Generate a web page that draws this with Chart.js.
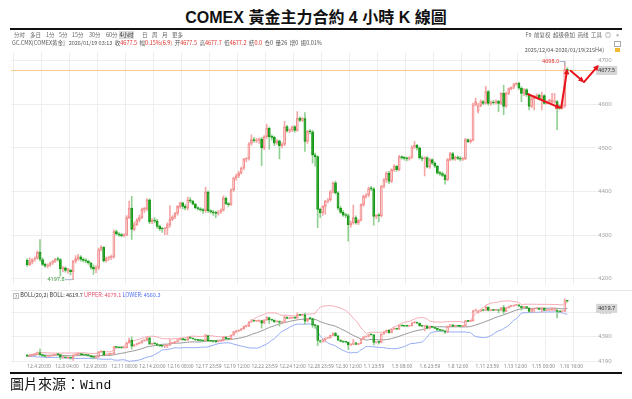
<!DOCTYPE html>
<html><head><meta charset="utf-8">
<script src="https://cdn.jsdelivr.net/npm/chart.js@4.4.1/dist/chart.umd.min.js"></script>
<style>
html,body{margin:0;padding:0;background:#fff;width:632px;height:399px;overflow:hidden;}
body{position:relative;font-family:"Noto Sans CJK SC","Noto Sans",sans-serif;}
.abs{position:absolute;white-space:nowrap;}
canvas{position:absolute;left:0;}
.tb{position:absolute;top:31px;font-size:5.5px;line-height:8px;color:#666;}
.info{position:absolute;top:39px;font-size:5.5px;line-height:8px;color:#555;white-space:nowrap;}
.info .r{color:#e0302a;}
</style></head><body>
<canvas id="main" width="632" height="250" style="top:40px"></canvas>
<canvas id="ind" width="632" height="84" style="top:288px"></canvas>

<div class="abs" style="left:0;top:7px;width:632px;text-align:center;font-size:16px;line-height:18px;font-weight:bold;color:#111;font-family:'Liberation Sans Narrow','Liberation Sans','Noto Sans CJK TC',sans-serif;">COMEX <span style="font-family:'Noto Sans CJK TC';font-weight:600">黃金主力合約</span> 4 <span style="font-family:'Noto Sans CJK TC';font-weight:600">小時</span> K <span style="font-family:'Noto Sans CJK TC';font-weight:600">線圖</span></div>
<div class="abs" style="left:10px;top:28px;width:612px;height:2px;background:#111;"></div>

<div class="tb" style="left:14px">分时</div>
<div class="tb" style="left:30px">多日</div>
<div class="tb" style="left:46px">1分</div>
<div class="tb" style="left:59px">5分</div>
<div class="tb" style="left:72px">15分</div>
<div class="tb" style="left:89px">30分</div>
<div class="tb" style="left:106px">60分</div>
<div class="tb" style="left:119px;width:15px;text-align:center;background:#dcdcdc;color:#333">4小时</div>
<div class="tb" style="left:142px">日</div>
<div class="tb" style="left:152px">周</div>
<div class="tb" style="left:162px">月</div>
<div class="tb" style="left:172px">更多</div>

<div class="info" style="left:12px">GC.CMX[COMEX黄金]&nbsp;&nbsp;&nbsp;2026/01/19 03:13&nbsp;&nbsp;收<span class="r">4677.5</span>&nbsp;&nbsp;幅<span class="r">0.15%(6.9)</span>&nbsp;&nbsp;开<span class="r">4677.5</span>&nbsp;&nbsp;高<span class="r">4677.7</span>&nbsp;&nbsp;低<span class="r">4677.2</span>&nbsp;&nbsp;结<span class="r">0.0</span>&nbsp;&nbsp;仓0&nbsp;&nbsp;量26&nbsp;&nbsp;增0&nbsp;&nbsp;振0.01%</div>

<div class="tb" style="left:520px;width:82px;text-align:right;">F9&nbsp;&nbsp;前复权&nbsp;&nbsp;超级叠加&nbsp;&nbsp;画线&nbsp;&nbsp;工具</div>
<div class="tb" style="left:605px;font-size:6px">◎</div>
<div class="tb" style="left:616px;font-size:6px">»</div>
<div class="abs" style="left:614px;top:41px;width:5px;height:4px;border:1px solid #aaa;"></div>
<div class="abs" style="left:450px;top:46px;width:154px;text-align:right;font-size:5.5px;line-height:8px;color:#555;">2025/12/04-2026/01/19(215H4)</div>
<div class="abs" style="left:615px;top:48px;width:5px;height:4px;background:#f2b630;"></div>

<div class="abs" style="left:11px;top:290px;width:621px;height:1px;background:#e6e6e6;"></div>
<div class="abs" style="left:13px;top:291px;font-size:5.5px;line-height:8px;color:#333;"><span style="display:inline-block;box-sizing:border-box;border:1px solid #bbb;width:6px;height:6px;line-height:4px;text-align:center;font-size:4.5px;vertical-align:middle">?</span>&nbsp;BOLL(20,2)&nbsp;BOLL:&nbsp;<span id="bm"></span>&nbsp;<span style="color:#e8506a">UPPER:&nbsp;<span id="bu"></span></span>&nbsp;<span style="color:#4a6cf0">LOWER:&nbsp;<span id="bl"></span></span></div>

<div class="abs" style="left:10px;top:372px;width:612px;height:2px;background:#111;"></div>
<div class="abs" style="left:10px;top:375px;font-size:14px;line-height:17px;color:#111;"><span style="font-family:'Noto Sans CJK TC'">圖片來源：</span><span style="font-family:'Liberation Mono',monospace;font-size:13px">Wind</span></div>

<script>
// ---------------- data ----------------
const tickLabels = ['12.4 20:00','12.8 04:00','12.9 20:00','12.11 08:00','12.14 20:00','12.16 08:00','12.17 23:59','12.19 12:00','12.22 23:59','12.24 12:00','12.28 23:59','12.30 12:00','1.1 23:59','1.5 08:00','1.6 23:59','1.8 12:00','1.11 23:59','1.13 12:00','1.15 00:00','1.16 16:00'];
const barsPerTick = 11;
const priceTicks = [4200,4300,4400,4500,4600,4700];
const indTicks = [4190,4390,4590];
const opens = [4242,4232,4238,4244,4247,4261,4244,4233,4229,4231,
4236,4240,4245,4244,4223,4225,4219,4220,4216,4240,
4246,4250,4244,4242,4240,4236,4226,4222,4225,4267,
4272,4241,4247,4249,4250,4308,4303,4300,4299,4300,
4340,4362,4313,4324,4334,4340,4359,4360,4381,4330,
4334,4332,4320,4315,4314,4316,4324,4336,4342,4350,
4366,4374,4366,4362,4381,4378,4371,4363,4360,4358,
4356,4399,4356,4353,4351,4350,4353,4357,4385,4372,
4370,4404,4431,4436,4442,4454,4474,4476,4510,4519,
4516,4518,4520,4500,4526,4545,4526,4524,4511,4516,
4505,4508,4549,4539,4541,4549,4540,4568,4563,4567,
4515,4538,4537,4484,4480,4359,4351,4366,4378,4381,
4400,4420,4397,4362,4352,4346,4345,4324,4328,4340,
4328,4334,4370,4389,4392,4407,4406,4343,4345,4344,
4412,4427,4442,4423,4450,4458,4450,4480,4477,4476,
4475,4478,4502,4506,4500,4477,4475,4478,4456,4473,
4465,4458,4442,4441,4437,4427,4473,4487,4474,4479,
4476,4474,4475,4519,4514,4518,4599,4584,4597,4606,
4602,4629,4602,4605,4603,4607,4602,4625,4595,4625,
4636,4639,4646,4648,4637,4625,4634,4622,4595,4613,
4618,4621,4612,4620,4602,4605,4604,4605,4606,4595,
4591,4596,4680];
const highs = [4246,4248,4246,4250,4264,4290,4248,4236,4234,4238,
4242,4247,4249,4247,4228,4227,4224,4222,4242,4253,
4256,4253,4248,4246,4243,4238,4232,4230,4270,4276,
4274,4250,4252,4254,4312,4312,4306,4304,4303,4345,
4378,4389,4330,4338,4346,4362,4364,4384,4383,4338,
4340,4336,4323,4318,4318,4328,4367,4345,4352,4368,
4376,4376,4370,4387,4386,4380,4373,4365,4363,4361,
4410,4401,4358,4357,4355,4356,4360,4390,4388,4375,
4406,4433,4440,4446,4456,4476,4478,4512,4530,4524,
4522,4523,4524,4528,4554,4548,4530,4527,4519,4518,
4512,4561,4552,4544,4550,4551,4583,4571,4570,4581,
4540,4542,4540,4488,4482,4362,4368,4380,4384,4402,
4422,4424,4400,4366,4356,4350,4348,4332,4369,4344,
4336,4372,4392,4395,4410,4412,4409,4347,4350,4414,
4430,4445,4446,4452,4462,4460,4483,4482,4480,4479,
4480,4504,4515,4508,4502,4481,4480,4480,4476,4475,
4468,4460,4446,4445,4440,4476,4490,4490,4481,4482,
4480,4478,4522,4521,4520,4603,4614,4602,4610,4609,
4641,4632,4608,4609,4610,4609,4627,4644,4628,4638,
4640,4648,4650,4651,4640,4636,4636,4625,4616,4620,
4624,4624,4628,4622,4608,4612,4625,4625,4609,4598,
4601,4698,4684];
const lows = [4228,4230,4234,4240,4245,4240,4230,4226,4225,4228,
4233,4237,4240,4206,4216,4215,4212,4209,4197.8,4236,
4242,4240,4238,4236,4233,4222,4210,4214,4221,4264,
4238,4238,4242,4244,4247,4300,4297,4296,4296,4298,
4338,4290,4310,4322,4330,4338,4352,4356,4326,4326,
4328,4316,4310,4306,4301,4301,4318,4333,4338,4346,
4362,4360,4358,4358,4374,4369,4360,4357,4355,4350,
4352,4352,4350,4345,4340,4346,4350,4355,4370,4366,
4368,4400,4426,4432,4440,4450,4468,4472,4506,4513,
4512,4510,4459,4496,4522,4497,4518,4505,4508,4475,
4500,4505,4536,4535,4537,4536,4538,4560,4561,4492,
4510,4532,4465,4458,4317,4340,4345,4348,4374,4378,
4396,4394,4358,4350,4343,4340,4286,4318,4325,4325,
4324,4332,4366,4385,4388,4402,4323,4338,4330,4342,
4408,4420,4418,4420,4446,4446,4447,4474,4472,4470,
4472,4476,4498,4495,4474,4470,4436,4454,4453,4462,
4455,4440,4437,4434,4417,4425,4470,4472,4471,4473,
4470,4471,4473,4512,4511,4516,4596,4580,4594,4599,
4600,4598,4598,4600,4600,4583,4599,4576,4593,4622,
4633,4636,4643,4634,4606,4620,4618,4587,4592,4587,
4614,4610,4587,4600,4600,4602,4602,4602,4542,4588,
4589,4593,4672];
const closes = [4232,4238,4244,4247,4261,4244,4233,4229,4231,4236,
4240,4245,4244,4223,4225,4219,4220,4216,4240,4246,
4250,4244,4242,4240,4236,4226,4222,4225,4267,4272,
4241,4247,4249,4250,4308,4303,4300,4299,4300,4340,
4362,4313,4324,4334,4340,4359,4360,4381,4330,4334,
4332,4320,4315,4314,4316,4324,4336,4342,4350,4366,
4374,4366,4362,4381,4378,4371,4363,4360,4358,4356,
4399,4356,4353,4351,4350,4353,4357,4385,4372,4370,
4404,4431,4436,4442,4454,4474,4476,4510,4519,4516,
4518,4520,4500,4526,4545,4526,4524,4511,4516,4505,
4508,4549,4539,4541,4549,4540,4568,4563,4567,4515,
4538,4537,4484,4480,4359,4351,4366,4378,4381,4400,
4420,4397,4362,4352,4346,4345,4324,4328,4340,4328,
4334,4370,4389,4392,4407,4406,4343,4345,4344,4412,
4427,4442,4423,4450,4458,4450,4480,4477,4476,4475,
4478,4502,4506,4500,4477,4475,4478,4456,4473,4465,
4458,4442,4441,4437,4427,4473,4487,4474,4479,4476,
4474,4475,4519,4514,4518,4599,4606,4597,4606,4602,
4629,4602,4605,4603,4607,4602,4625,4595,4625,4636,
4639,4646,4648,4637,4625,4634,4622,4595,4613,4618,
4621,4612,4620,4602,4605,4610,4609,4607,4595,4591,
4598,4680,4677.5];
const bollHeader = {mid:'4619.7', upper:'4679.1', lower:'4560.3'};
// user-drawn arrows on the chart, in (bar index, price) units
const arrowFrom = [[196.6,4623],[209.6,4592],[213.3,4677],[218.5,4651]];
const arrowTo   = [[209.4,4591],[212.0,4681],[218.5,4651],[224.3,4690]];

// -------------- derived --------------
const N = closes.length;
const lastPrice = closes[N-1];
const isUp = closes.map((c,i)=>c>=opens[i]);
function bollinger(n,k){
  const mid=[],up=[],lo=[];
  for(let i=0;i<N;i++){
    const w=closes.slice(Math.max(0,i-n+1),i+1);
    const m=w.reduce((a,b)=>a+b,0)/w.length;
    const sd=Math.sqrt(w.reduce((a,b)=>a+(b-m)*(b-m),0)/w.length);
    mid.push({x:i,y:m}); up.push({x:i,y:m+k*sd}); lo.push({x:i,y:m-k*sd});
  }
  return {mid,up,lo};
}
const bb = bollinger(20,2);
document.getElementById('bm').textContent=bollHeader.mid;
document.getElementById('bu').textContent=bollHeader.upper;
document.getElementById('bl').textContent=bollHeader.lower;

Chart.defaults.font.family="'Noto Sans','DejaVu Sans',sans-serif";
Chart.defaults.animation=false;

function candleSets(bodyW){
  return [
    {type:'bar',order:1,grouped:false,barThickness:bodyW,minBarLength:1,borderWidth:1,borderSkipped:false,
     data:closes.map((c,i)=>({x:i,y:[Math.min(opens[i],c),Math.max(opens[i],c)]})),
     backgroundColor:isUp.map(u=>u?'rgba(255,255,255,0)':'#169a16'),
     borderColor:isUp.map(u=>u?'#f39090':'#169a16')},
    {type:'bar',order:2,grouped:false,barThickness:1,
     data:highs.map((h,i)=>({x:i,y:[Math.max(opens[i],closes[i]),h]})),
     backgroundColor:isUp.map(u=>u?'#f6a8a8':'#93d093')},
    {type:'bar',order:2,grouped:false,barThickness:1,
     data:lows.map((l,i)=>({x:i,y:[l,Math.min(opens[i],closes[i])]})),
     backgroundColor:isUp.map(u=>u?'#f6a8a8':'#93d093')}
  ];
}
function xScale(showLabels){
  return {type:'linear',min:-0.63,max:217.9,
    afterBuildTicks:s=>{s.ticks=tickLabels.map((_,k)=>({value:k*barsPerTick}));},
    grid:{color:'#eeeeee',drawTicks:false},border:{display:false},
    ticks:{display:showLabels,align:'start',padding:2,color:'#888',
      font:{size:4.9,family:"'Noto Sans',sans-serif"},
      maxRotation:0,autoSkip:false,
      callback:v=>tickLabels[Math.round(v/barsPerTick)]},
    afterFit:s=>{ if(showLabels) s.height=10; }};
}
function yScale(ticks){
  return {position:'right',min:4184.7,max:4719.9,
    afterBuildTicks:s=>{s.ticks=ticks.map(v=>({value:v}));},
    afterFit:s=>{s.width=35;},
    grid:{color:'#eeeeee',drawTicks:false},border:{display:false},
    ticks:{color:'#a0a0a0',font:{size:6},padding:1,callback:v=>String(v)}};
}
function tag(ctx,x,y,text){
  ctx.save();
  ctx.font="5.5px 'Noto Sans',sans-serif";
  const w=ctx.measureText(text).width+4;
  ctx.fillStyle='#d6d6d6';ctx.fillRect(x,y-4.5,w,9);
  ctx.fillStyle='#333';ctx.textBaseline='middle';ctx.fillText(text,x+2,y);
  ctx.restore();
}
function arrow(ctx,x1,y1,x2,y2){
  const a=Math.atan2(y2-y1,x2-x1),h=6;
  ctx.beginPath();ctx.moveTo(x1,y1);ctx.lineTo(x2-2*Math.cos(a),y2-2*Math.sin(a));ctx.stroke();
  ctx.beginPath();ctx.moveTo(x2,y2);
  ctx.lineTo(x2-h*Math.cos(a-0.5),y2-h*Math.sin(a-0.5));
  ctx.lineTo(x2-h*Math.cos(a+0.5),y2-h*Math.sin(a+0.5));
  ctx.closePath();ctx.fill();
}
const mainOverlay={
  id:'mainOverlay',
  beforeDatasetsDraw(chart){
    const {ctx,chartArea:a,scales:{y}}=chart;
    const py=Math.round(y.getPixelForValue(lastPrice))+0.5;
    ctx.save();ctx.strokeStyle='#f8c98f';ctx.lineWidth=1;
    ctx.beginPath();ctx.moveTo(a.left,py);ctx.lineTo(a.right,py);ctx.stroke();ctx.restore();
  },
  afterDraw(chart){
    const {ctx,chartArea:a,scales:{x,y}}=chart;
    let hi=0,lo=0;
    for(let i=1;i<N;i++){ if(highs[i]>highs[hi]) hi=i; if(lows[i]<lows[lo]) lo=i; }
    ctx.save();
    ctx.font="5.5px 'Noto Sans',sans-serif";ctx.textBaseline='middle';
    let px=x.getPixelForValue(hi),py=y.getPixelForValue(highs[hi]);
    ctx.strokeStyle='#8aa4c8';ctx.lineWidth=0.8;
    ctx.beginPath();ctx.moveTo(px-5,py);ctx.lineTo(px,py);ctx.lineTo(px,py+4);ctx.stroke();
    ctx.fillStyle='#e0302a';ctx.textAlign='right';ctx.fillText(highs[hi].toFixed(1),px-5.5,py);
    px=x.getPixelForValue(lo);py=y.getPixelForValue(lows[lo]);
    ctx.beginPath();ctx.moveTo(px-8,py);ctx.lineTo(px,py);ctx.stroke();
    ctx.fillStyle='#3a9a3a';ctx.textAlign='right';ctx.fillText(lows[lo].toFixed(1),px-8.5,py);
    ctx.restore();
    tag(ctx,a.right-1,y.getPixelForValue(lastPrice),String(lastPrice));
    ctx.save();ctx.strokeStyle='#e8141c';ctx.fillStyle='#e8141c';ctx.lineWidth=2;ctx.lineCap='round';
    for(let k=0;k<arrowFrom.length;k++){
      arrow(ctx,x.getPixelForValue(arrowFrom[k][0]),y.getPixelForValue(arrowFrom[k][1]),
                x.getPixelForValue(arrowTo[k][0]),y.getPixelForValue(arrowTo[k][1]));
    }
    ctx.restore();
  }
};
const indOverlay={
  id:'indOverlay',
  afterDraw(chart){
    const {ctx,chartArea:a,scales:{y}}=chart;
    tag(ctx,a.right-1,y.getPixelForValue(Number(bollHeader.mid)),bollHeader.mid);
  }
};

new Chart(document.getElementById('main'),{
  type:'bar',
  data:{datasets:candleSets(2.2)},
  options:{responsive:false,devicePixelRatio:1,events:[],
    layout:{padding:{left:11,top:12,bottom:4,right:0}},
    plugins:{legend:{display:false},tooltip:{enabled:false}},
    scales:{x:xScale(false),y:yScale(priceTicks)}},
  plugins:[mainOverlay]
});

const lineDs=(data,color)=>({type:'line',order:3,data,borderColor:color,borderWidth:0.9,pointRadius:0,tension:0.3});
new Chart(document.getElementById('ind'),{
  type:'bar',
  data:{datasets:[...candleSets(2),
    lineDs(bb.up,'#f5a3ad'),lineDs(bb.mid,'#8c8c8c'),lineDs(bb.lo,'#8aa2f5')]},
  options:{responsive:false,devicePixelRatio:1,events:[],
    layout:{padding:{left:11,top:8,bottom:0,right:0}},
    plugins:{legend:{display:false},tooltip:{enabled:false}},
    scales:{x:xScale(true),y:yScale(indTicks)}},
  plugins:[indOverlay]
});
</script>
</body></html>
